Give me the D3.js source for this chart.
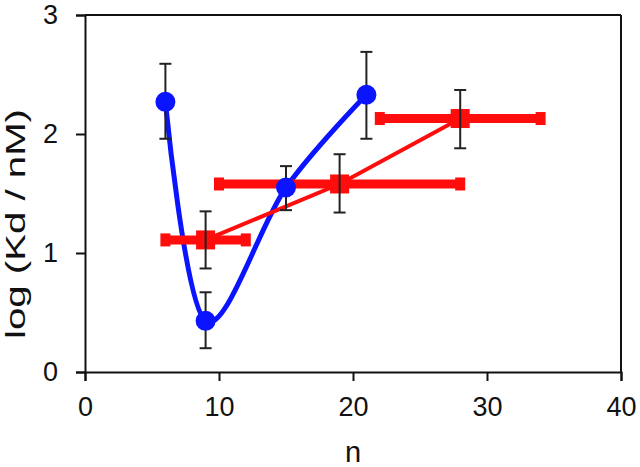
<!DOCTYPE html>
<html>
<head>
<meta charset="utf-8">
<script src="https://cdn.jsdelivr.net/npm/d3@7"></script>
<style>
  body { margin: 0; background: #fff; }
  svg { display: block; font-family: "Liberation Sans", Arial, sans-serif; }
</style>
</head>
<body>
<svg width="640" height="467"></svg>
<script>
// blue series (circles, smoothed line)
var blueN = [6, 9, 15, 21],
    blueLogKd = [2.27, 0.43, 1.55, 2.33],
    blueErrLow = [1.96, 0.20, 1.36, 1.96],
    blueErrHigh = [2.59, 0.67, 1.73, 2.69];

// red series (squares, straight line, horizontal bars)
var redN = [9, 19, 28],
    redLogKd = [1.11, 1.58, 2.13],
    redNLow = [6, 10, 22],
    redNHigh = [12, 28, 34],
    redErrLow = [0.87, 1.34, 1.88],
    redErrHigh = [1.35, 1.83, 2.37];

var xTicks = [0, 10, 20, 30, 40],
    yTicks = [0, 1, 2, 3];

var svg = d3.select("svg");

var x = d3.scaleLinear().domain([0, 40]).range([85, 621]),
    y = d3.scaleLinear().domain([0, 3]).range([372, 15]);

var blue = blueN.map(function (n, i) {
    return { n: n, v: blueLogKd[i], lo: blueErrLow[i], hi: blueErrHigh[i] };
});
var red = redN.map(function (n, i) {
    return { n: n, v: redLogKd[i], lo: redErrLow[i], hi: redErrHigh[i], nlo: redNLow[i], nhi: redNHigh[i] };
});

// axes
var xAxis = svg.append("g")
    .attr("transform", "translate(0," + y(0) + ")")
    .call(d3.axisBottom(x).tickValues(xTicks).tickFormat(d3.format("d"))
        .tickSizeOuter(0).tickSize(9).tickPadding(16));
var yAxis = svg.append("g")
    .attr("transform", "translate(" + x(0) + ",0)")
    .call(d3.axisLeft(y).tickValues(yTicks).tickFormat(d3.format("d"))
        .tickSizeOuter(0).tickSize(9).tickPadding(18));

[xAxis, yAxis].forEach(function (g) {
    g.selectAll("path, line").attr("stroke", "#111").attr("stroke-width", 2);
    g.selectAll("text").attr("fill", "#111").style("font-size", "27px")
        .style("font-family", "'Liberation Sans', Arial, sans-serif");
});

// frame top & right
svg.append("line")
    .attr("x1", x(0)).attr("x2", x(40)).attr("y1", y(3)).attr("y2", y(3))
    .attr("stroke", "#111").attr("stroke-width", 2);
svg.append("line")
    .attr("x1", x(40)).attr("x2", x(40)).attr("y1", y(3)).attr("y2", y(0))
    .attr("stroke", "#111").attr("stroke-width", 2);

// axis titles
svg.append("text")
    .attr("x", (x(0) + x(40)) / 2).attr("y", 462)
    .attr("text-anchor", "middle")
    .style("font-size", "29px").attr("fill", "#111")
    .text("n");

svg.append("text")
    .attr("transform", "translate(25,224) rotate(-90)")
    .attr("text-anchor", "middle")
    .style("font-size", "28px").attr("fill", "#111")
    .attr("textLength", 230).attr("lengthAdjust", "spacingAndGlyphs")
    .text("log (Kd / nM)");

// blue smoothed line
var blueLine = d3.line()
    .x(function (d) { return x(d.n); })
    .y(function (d) { return y(d.v); })
    .curve(d3.curveCardinal.tension(0));

svg.append("path")
    .datum(blue)
    .attr("d", blueLine)
    .attr("fill", "none")
    .attr("stroke", "#0a14ff")
    .attr("stroke-width", 5);

// red horizontal error bars
var redColor = "#ff0c0c";
svg.selectAll(".xbar")
    .data(red).enter()
    .append("line")
    .attr("x1", function (d) { return x(d.nlo); })
    .attr("x2", function (d) { return x(d.nhi); })
    .attr("y1", function (d) { return y(d.v); })
    .attr("y2", function (d) { return y(d.v); })
    .attr("stroke", redColor).attr("stroke-width", 9);

svg.selectAll(".xcap")
    .data(red.flatMap(function (d) { return [{ n: d.nlo, v: d.v }, { n: d.nhi, v: d.v }]; }))
    .enter()
    .append("rect")
    .attr("x", function (d) { return x(d.n) - 5; })
    .attr("y", function (d) { return y(d.v) - 6.5; })
    .attr("width", 10).attr("height", 13)
    .attr("fill", redColor);

// red straight line
svg.append("path")
    .datum(red)
    .attr("d", d3.line().x(function (d) { return x(d.n); }).y(function (d) { return y(d.v); }))
    .attr("fill", "none")
    .attr("stroke", redColor)
    .attr("stroke-width", 4);

svg.selectAll(".sq")
    .data(red).enter()
    .append("rect")
    .attr("x", function (d) { return x(d.n) - 9.5; })
    .attr("y", function (d) { return y(d.v) - 9.5; })
    .attr("width", 19).attr("height", 19)
    .attr("fill", redColor);

// vertical error bars
var allErr = blue.concat(red);
var eb = svg.selectAll(".eb").data(allErr).enter().append("g")
    .attr("stroke", "#222").attr("stroke-width", 2);
eb.append("line")
    .attr("x1", function (d) { return x(d.n); })
    .attr("x2", function (d) { return x(d.n); })
    .attr("y1", function (d) { return y(d.lo); })
    .attr("y2", function (d) { return y(d.hi); });
eb.append("line")
    .attr("x1", function (d) { return x(d.n) - 6; })
    .attr("x2", function (d) { return x(d.n) + 6; })
    .attr("y1", function (d) { return y(d.lo); })
    .attr("y2", function (d) { return y(d.lo); });
eb.append("line")
    .attr("x1", function (d) { return x(d.n) - 6; })
    .attr("x2", function (d) { return x(d.n) + 6; })
    .attr("y1", function (d) { return y(d.hi); })
    .attr("y2", function (d) { return y(d.hi); });

// blue circles
svg.selectAll(".dot")
    .data(blue).enter()
    .append("circle")
    .attr("cx", function (d) { return x(d.n); })
    .attr("cy", function (d) { return y(d.v); })
    .attr("r", 10)
    .attr("fill", "#0a14ff");
</script>
</body>
</html>
